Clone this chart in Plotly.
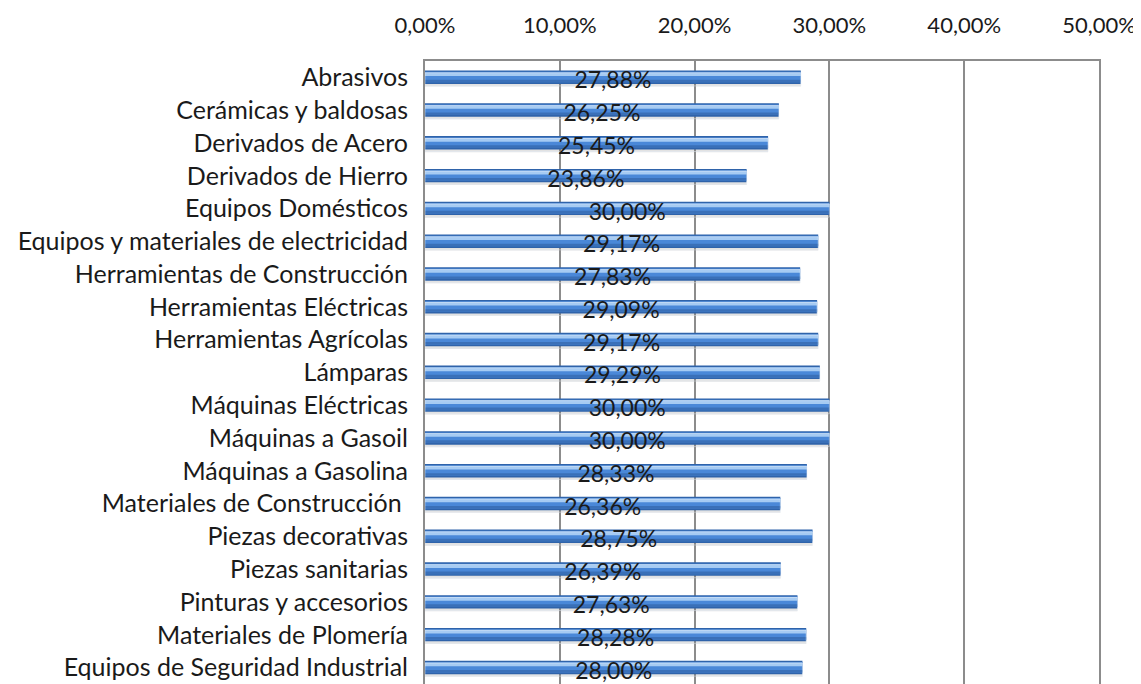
import plotly.graph_objects as go

categories = [
    "Abrasivos", "Cerámicas y baldosas", "Derivados de Acero", "Derivados de Hierro",
    "Equipos Domésticos", "Equipos y materiales de electricidad", "Herramientas de Construcción",
    "Herramientas Eléctricas", "Herramientas Agrícolas", "Lámparas", "Máquinas Eléctricas",
    "Máquinas a Gasoil", "Máquinas a Gasolina", "Materiales de Construcción ",
    "Piezas decorativas", "Piezas sanitarias", "Pinturas y accesorios",
    "Materiales de Plomería", "Equipos de Seguridad Industrial",
]
values = [0.2788, 0.2625, 0.2545, 0.2386, 0.3000, 0.2917, 0.2783, 0.2909, 0.2917, 0.2929,
          0.3000, 0.3000, 0.2833, 0.2636, 0.2875, 0.2639, 0.2763, 0.2828, 0.2800]
tick_vals = [0, 0.1, 0.2, 0.3, 0.4, 0.5]

FONT = "Lato"
fig = go.Figure()

# layered bars to imitate the cylinder shading
layers = [
    # (offset, width, color)
    (-0.10, 0.38, "rgba(110,110,110,0.20)"),  # soft shadow
    (-0.21, 0.41, "#2f63aa"),                 # dark base
    (-0.17, 0.32, "#4a88d8"),                 # mid blue
    (-0.15, 0.11, "#a6cbf3"),                 # highlight
    (0.07, 0.08, "#3a70b8"),                  # lower shade
]
for off, w, col in layers:
    fig.add_trace(go.Bar(
        x=values, y=categories, orientation="h",
        offset=off, width=w, marker=dict(color=col, line=dict(width=0)),
        hoverinfo="skip", showlegend=False,
    ))

# labels
fig.add_trace(go.Bar(
    x=values, y=categories, orientation="h",
    offset=-0.14, width=0.4, marker=dict(color="rgba(0,0,0,0)"),
    text=[f"{v*100:.2f}%".replace(".", ",") for v in values],
    textposition="inside", insidetextanchor="middle", constraintext="none",
    textfont=dict(family=FONT, size=23, color="#1a1a1a"),
    cliponaxis=False, showlegend=False,
))

fig.update_layout(
    barmode="overlay",
    width=1133, height=676,
    margin=dict(l=417, r=42, t=53, b=0, autoexpand=False),
    paper_bgcolor="white", plot_bgcolor="white",
    separators=",.",
    font=dict(family=FONT, size=23, color="#1a1a1a"),
    xaxis=dict(
        side="top", range=[0, 0.5], tickvals=tick_vals, tickformat=".2%",
        showgrid=True, gridcolor="#8c8c8c", gridwidth=1.5,
        showline=True, linecolor="#8c8c8c", linewidth=2, mirror=False,
        zeroline=False, ticks="", ticklabelstandoff=17, automargin=False,
        ticklabeloverflow="allow",
        tickfont=dict(family=FONT, size=22, color="#1a1a1a"),
    ),
    yaxis=dict(
        categoryorder="array", categoryarray=categories,
        range=[18.5, -0.5], autorange=False,
        showgrid=False, showline=True, linecolor="#8c8c8c", linewidth=2, mirror=True,
        ticks="", ticklabelstandoff=10, automargin=False,
        tickfont=dict(family=FONT, size=25, color="#1a1a1a"),
    ),
)

fig.write_html("out.html")
